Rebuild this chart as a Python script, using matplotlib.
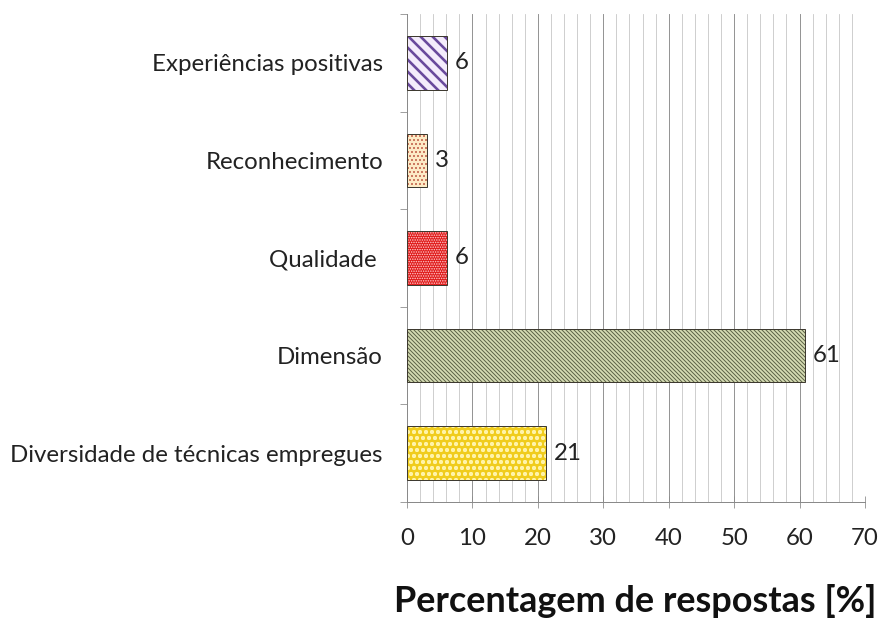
import matplotlib
matplotlib.use("Agg")
import matplotlib.pyplot as plt
from matplotlib.ticker import MultipleLocator, FixedLocator

plt.rcParams['font.family'] = ['Lato', 'DejaVu Sans']

categories = ["Diversidade de técnicas empregues", "Dimensão", "Qualidade ",
              "Reconhecimento", "Experiências positivas"]
values = [21.3, 60.8, 6.1, 3.1, 6.1]
labels = ["21", "61", "6", "3", "6"]
x_ticks = [0, 10, 20, 30, 40, 50, 60, 70]
xlabel = "Percentagem de respostas [%]"

faces = ['#f0cc1c', '#d6dcb4', '#e01a1a', '#fdebc6', '#f4ecfb']
hatches = ['oo', '\\\\\\\\\\\\', '.....', '...', '\\\\']
hatch_colors = ['#fff3a8', '#5e6448', '#ffd0d0', '#b84a36', '#6a4a9c']
hatch_lw = [1.6, 1.0, 1.0, 1.0, 2.6]

DPI = 72
fig = plt.figure(figsize=(882 / DPI, 623 / DPI), dpi=DPI)
ax = fig.add_axes([407 / 882, 1 - 502 / 623, (865 - 407) / 882, (502 - 14) / 623])

ypos = list(range(len(categories)))
for y, v, fc, h, hc, lw in zip(ypos, values, faces, hatches, hatch_colors, hatch_lw):
    plt.rcParams['hatch.linewidth'] = lw
    ax.barh(y, v, height=0.55, color=fc, edgecolor='none', zorder=3)
    ax.barh(y, v, height=0.55, fill=False, hatch=h, edgecolor=hc, linewidth=0, zorder=4)
    ax.barh(y, v, height=0.55, fill=False, edgecolor='#3e3a30', linewidth=1.0, zorder=5)
    ax.annotate(labels[y], (v, y), xytext=(8, 0), textcoords='offset points',
                ha='left', va='center', fontsize=24, color='#222222')

ax.set_xlim(0, 70)
ax.set_ylim(-0.5, len(categories) - 0.5)

ax.xaxis.set_major_locator(FixedLocator(x_ticks))
ax.xaxis.set_minor_locator(MultipleLocator(2))
ax.grid(True, axis='x', which='major', color='#8a8a8a', linewidth=0.9, zorder=0)
ax.grid(True, axis='x', which='minor', color='#c4c4c4', linewidth=0.8, zorder=0)
ax.grid(False, axis='y')

ax.set_yticks([i - 0.5 for i in range(len(categories) + 1)])
ax.set_yticklabels([])
ax.set_yticks(ypos, minor=True)
ax.set_yticklabels(categories, minor=True)
ax.tick_params(axis='y', which='major', length=7, color='#8a8a8a', direction='out')
ax.tick_params(axis='y', which='minor', length=0, pad=24, labelsize=24, labelcolor='#222222')
ax.tick_params(axis='x', which='major', length=12, direction='inout', color='#8a8a8a',
               pad=20, labelsize=24, labelcolor='#222222')
ax.tick_params(axis='x', which='minor', length=0)

for s in ['top', 'right']:
    ax.spines[s].set_visible(False)
for s in ['left', 'bottom']:
    ax.spines[s].set_color('#8a8a8a')
    ax.spines[s].set_linewidth(1.0)

fig.text(635 / 882, 1 - 601 / 623, xlabel, ha='center', va='center',
         fontsize=36, fontweight='bold', color='#111111')

fig.savefig('out.png', dpi=DPI, facecolor='white')
